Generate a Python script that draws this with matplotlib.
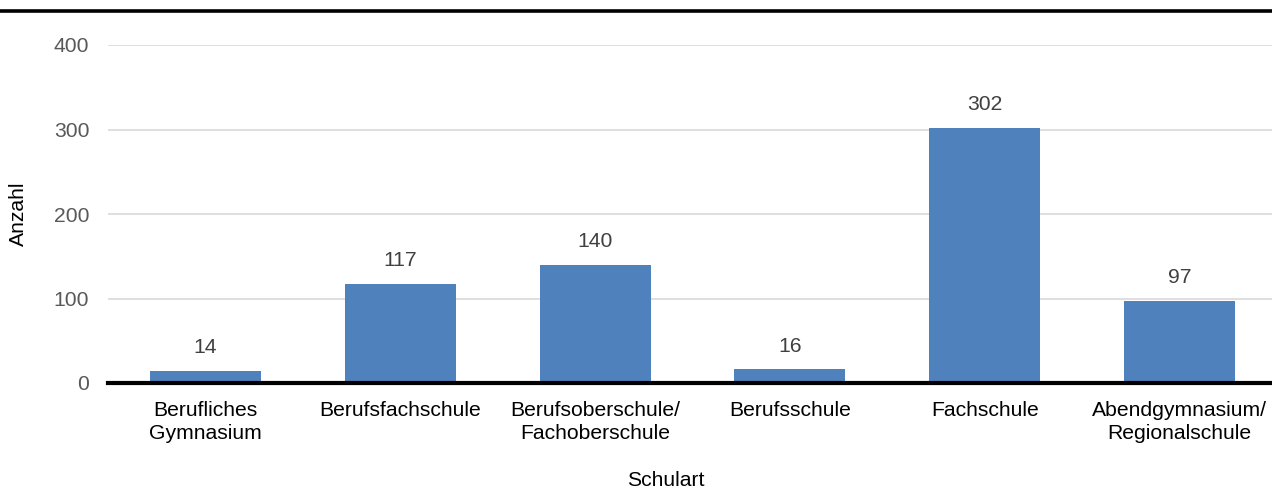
import matplotlib
matplotlib.use("Agg")
import matplotlib.pyplot as plt
from matplotlib.lines import Line2D

categories = ["Berufliches\nGymnasium", "Berufsfachschule", "Berufsoberschule/\nFachoberschule",
              "Berufsschule", "Fachschule", "Abendgymnasium/\nRegionalschule"]
values = [14, 117, 140, 16, 302, 97]
yticks = [0, 100, 200, 300, 400]

plt.rcParams['font.family'] = ['Liberation Sans', 'DejaVu Sans']
fs = 15.2

fig = plt.figure(figsize=(12.72, 4.88), dpi=100)
ax = fig.add_axes([108/1272, 1-383/488, 1169/1272, (383-45)/488])

x = list(range(len(categories)))
bars = ax.bar(x, values, width=0.57, color="#4F81BD", zorder=2)
ax.set_xlim(-0.5, len(categories)-0.5)
ax.set_ylim(0, 400)
ax.set_yticks(yticks)
ax.set_yticklabels([str(t) for t in yticks], color="#595959", fontsize=fs)
ax.set_xticks(x)
ax.set_xticklabels(categories, fontsize=fs, color="black", linespacing=1.25)
ax.tick_params(axis='both', length=0)
ax.tick_params(axis='y', pad=13.5)
ax.tick_params(axis='x', pad=13)
ax.grid(axis='y', color="#D9D9D9", linewidth=1.2, zorder=0)
for s in ax.spines.values():
    s.set_visible(False)
ax.axhline(0, color="black", linewidth=3.0, zorder=3, clip_on=False)

for xi, v in zip(x, values):
    ax.annotate(str(v), (xi, v), xytext=(0, 10), textcoords="offset points",
                ha="center", va="bottom", fontsize=fs, color="#404040")

fig.text(18/1272, 1-214/488, "Anzahl", rotation=90, ha="center", va="center", fontsize=fs, color="black")
fig.text(666/1272, 1-480/488, "Schulart", ha="center", va="center", fontsize=fs, color="black")
fig.add_artist(Line2D([0, 1], [1-10.5/488, 1-10.5/488], color="black", linewidth=2.6, transform=fig.transFigure))

fig.savefig("out.png", dpi=100)
